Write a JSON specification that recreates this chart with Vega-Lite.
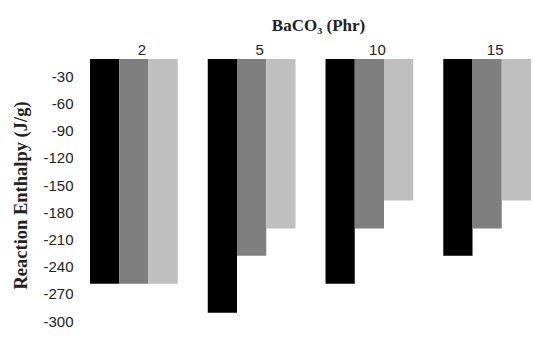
{
  "$schema": "https://vega.github.io/schema/vega-lite/v6.json",
  "width": 441,
  "height": 272,
  "autosize": {"type": "none"},
  "padding": {"left": 90, "top": 59, "right": 2, "bottom": 7},
  "background": "white",
  "config": {"view": {"stroke": null}},
  "data": {
    "values": [
      {"baco3": "2", "series": "A", "enthalpy": -248},
      {"baco3": "2", "series": "B", "enthalpy": -248},
      {"baco3": "2", "series": "C", "enthalpy": -248},
      {"baco3": "5", "series": "A", "enthalpy": -280},
      {"baco3": "5", "series": "B", "enthalpy": -217},
      {"baco3": "5", "series": "C", "enthalpy": -187},
      {"baco3": "10", "series": "A", "enthalpy": -248},
      {"baco3": "10", "series": "B", "enthalpy": -187},
      {"baco3": "10", "series": "C", "enthalpy": -156},
      {"baco3": "15", "series": "A", "enthalpy": -217},
      {"baco3": "15", "series": "B", "enthalpy": -187},
      {"baco3": "15", "series": "C", "enthalpy": -156}
    ]
  },
  "mark": {"type": "bar"},
  "encoding": {
    "x": {
      "field": "baco3",
      "type": "ordinal",
      "sort": ["2", "5", "10", "15"],
      "scale": {"paddingInner": 0.255, "paddingOuter": 0},
      "axis": {
        "orient": "top",
        "title": "BaCO₃ (Phr)",
        "titleFont": "Liberation Serif",
        "titleFontSize": 17,
        "titleFontWeight": "bold",
        "titleColor": "#222222",
        "titlePadding": 8,
        "titleX": 228,
        "labelAngle": 0,
        "labelFont": "Liberation Sans",
        "labelFontSize": 15,
        "labelColor": "#222222",
        "labelOffset": 8,
        "labelPadding": 2,
        "domain": false,
        "ticks": false
      }
    },
    "xOffset": {"field": "series", "type": "nominal", "scale": {"paddingInner": 0, "paddingOuter": 0}},
    "y": {
      "field": "enthalpy",
      "type": "quantitative",
      "scale": {"domain": [-300, 0], "nice": false},
      "axis": {
        "title": "Reaction Enthalpy (J/g)",
        "titleFont": "Liberation Serif",
        "titleFontSize": 18.5,
        "titleFontWeight": "bold",
        "titleColor": "#222222",
        "titlePadding": 12,
        "values": [-30, -60, -90, -120, -150, -180, -210, -240, -270, -300],
        "labelExpr": "datum.value + ''",
        "labelFont": "Liberation Sans",
        "labelFontSize": 15,
        "labelColor": "#222222",
        "labelOffset": -10,
        "labelPadding": 17,
        "domain": false,
        "ticks": false,
        "grid": false
      }
    },
    "color": {
      "field": "series",
      "type": "nominal",
      "scale": {"domain": ["A", "B", "C"], "range": ["#000000", "#7f7f7f", "#bfbfbf"]},
      "legend": null
    }
  }
}
